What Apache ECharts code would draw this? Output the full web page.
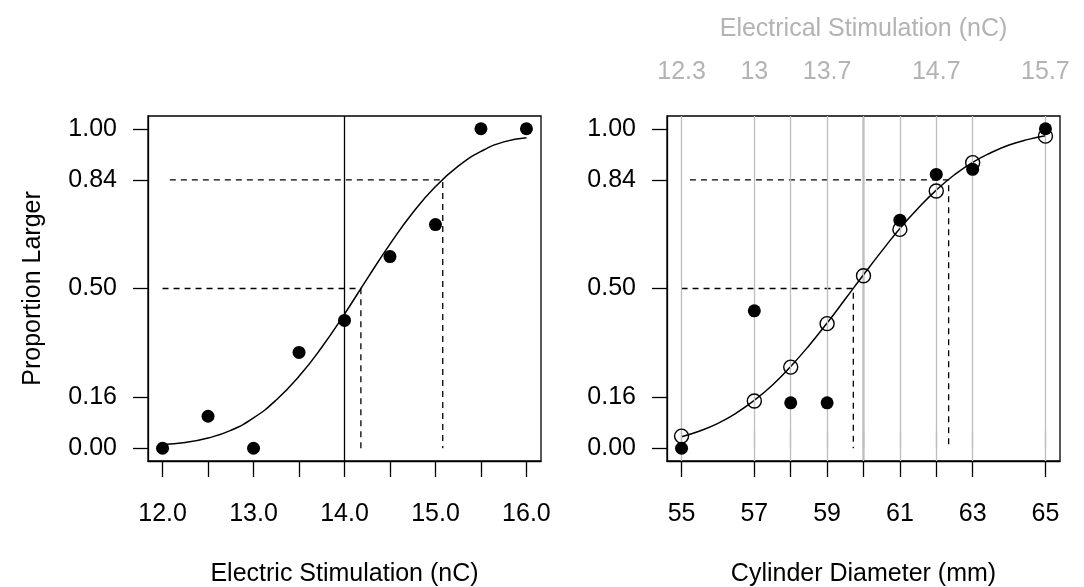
<!DOCTYPE html>
<html>
<head>
<meta charset="utf-8">
<script src="https://cdn.jsdelivr.net/npm/echarts@6/dist/echarts.min.js"></script>
<style>
  html, body { margin: 0; padding: 0; background: #fff; }
  #main { width: 1084px; height: 587px; }
</style>
</head>
<body>
<div id="main"></div>
<script>
// left panel: electric stimulation
var stimX = [12, 12.5, 13, 13.5, 14, 14.5, 15, 15.5, 16];
var stimProp = [0, 0.10, 0, 0.30, 0.40, 0.60, 0.70, 1, 1];
var stimCurveX = [12, 12.25, 12.5, 12.75, 13, 13.25, 13.5, 13.75, 14, 14.25, 14.5, 14.75, 15, 15.25, 15.5, 15.75, 16];
var stimCurveP = [0.012, 0.018, 0.032, 0.056, 0.095, 0.151, 0.225, 0.316, 0.42, 0.531, 0.639, 0.737, 0.819, 0.883, 0.929, 0.959, 0.972];
var stimHalf = [[12, 0.5], [14.18, 0.5], [14.18, 0]];
var stimUpper = [[12.08, 0.84], [15.08, 0.84], [15.08, 0]];
var stimRef = 14;
var stimTicks = [12, 12.5, 13, 13.5, 14, 14.5, 15, 15.5, 16];
var stimLabels = [12, 13, 14, 15, 16];

// right panel: cylinder diameter
var diamX = [55, 57, 58, 59, 60, 61, 62, 63, 65];
var diamObsX = [55, 57, 58, 59, 61, 62, 63, 65];
var diamObs = [0, 0.43, 0.142, 0.142, 0.714, 0.857, 0.873, 1];
var diamFit = [0.038, 0.148, 0.254, 0.39, 0.54, 0.685, 0.805, 0.894, 0.977];
var diamCurveX = [55, 55.5, 56, 56.5, 57, 57.5, 58, 58.5, 59, 59.5, 60, 60.5, 61, 61.5, 62, 62.5, 63, 63.5, 64, 64.5, 65];
var diamCurveP = [0.036, 0.054, 0.078, 0.110, 0.150, 0.198, 0.256, 0.321, 0.392, 0.467, 0.543, 0.617, 0.688, 0.751, 0.808, 0.856, 0.895, 0.925, 0.949, 0.966, 0.978];
var diamHalf = [[55, 0.5], [59.72, 0.5], [59.72, 0]];
var diamUpper = [[55.23, 0.84], [62.34, 0.84], [62.34, 0]];
var diamRef = 60;
var diamLabels = [55, 57, 59, 61, 63, 65];
var topLabelAt = [55, 57, 59, 62, 65];
var topLabelText = ['12.3', '13', '13.7', '14.7', '15.7'];

var yTicks = [0, 0.16, 0.5, 0.84, 1];

var FONT = 'Liberation Sans, Arial, sans-serif';
var FS = 25;
var GRAY_TEXT = '#b3b3b3';
var GRAY_LINE = '#bebebe';

function pairs(xs, ys) {
  return xs.map(function (x, i) { return [x, ys[i]]; });
}

function yAxisFor(idx, withName) {
  return {
    type: 'value', gridIndex: idx, min: -0.04, max: 1.04,
    name: withName ? 'Proportion Larger' : '',
    nameLocation: 'middle', nameGap: 102, nameRotate: 90,
    nameTextStyle: { fontFamily: FONT, fontSize: FS, color: '#000' },
    axisLine: { show: true, lineStyle: { color: '#000', width: 1.3 } },
    axisTick: { show: true, length: 15, customValues: yTicks, lineStyle: { color: '#000', width: 1.3 } },
    axisLabel: {
      customValues: yTicks, margin: 31, fontFamily: FONT, fontSize: FS, color: '#000',
      formatter: function (v) { return v.toFixed(2); }
    },
    splitLine: { show: false }
  };
}

function bottomAxis(idx, min, max, ticks, labels, name, fmt) {
  return {
    type: 'value', gridIndex: idx, min: min, max: max, position: 'bottom',
    name: name, nameLocation: 'middle', nameGap: 101,
    nameTextStyle: { fontFamily: FONT, fontSize: FS, color: '#000' },
    axisLine: { show: true, onZero: false, lineStyle: { color: '#000', width: 1.3 } },
    axisTick: { show: true, length: 16, customValues: ticks, lineStyle: { color: '#000', width: 1.3 } },
    axisLabel: { customValues: labels, margin: 41, fontFamily: FONT, fontSize: FS, color: '#000', formatter: fmt },
    splitLine: { show: false }
  };
}

function dashed(data, xi, yi) {
  return {
    type: 'line', xAxisIndex: xi, yAxisIndex: yi, data: data, showSymbol: false, symbol: 'none',
    lineStyle: { color: '#000', width: 1.3, type: [6, 5] }, silent: true, z: 3
  };
}

function refLine(x, xi, yi) {
  return {
    type: 'line', xAxisIndex: xi, yAxisIndex: yi, data: [[x, -0.04], [x, 1.04]], symbol: 'none',
    lineStyle: { color: '#000', width: 1.3 }, silent: true, z: 3
  };
}

var chart = echarts.init(document.getElementById('main'));

var option = {
  animation: false,
  backgroundColor: '#fff',
  grid: [
    { left: 148, top: 116, width: 393, height: 345, show: true, borderColor: '#000', borderWidth: 1.3, containLabel: false, outerBoundsMode: 'none' },
    { left: 667, top: 116, width: 393, height: 345, show: true, borderColor: '#000', borderWidth: 1.3, containLabel: false, outerBoundsMode: 'none' }
  ],
  xAxis: [
    bottomAxis(0, 11.84, 16.16, stimTicks, stimLabels, 'Electric Stimulation (nC)', function (v) { return v.toFixed(1); }),
    bottomAxis(1, 54.6, 65.4, diamX, diamLabels, 'Cylinder Diameter (mm)', function (v) { return String(v); }),
    {
      type: 'value', gridIndex: 1, min: 54.6, max: 65.4, position: 'top',
      name: 'Electrical Stimulation (nC)', nameLocation: 'middle', nameGap: 74,
      nameTextStyle: { fontFamily: FONT, fontSize: FS, color: GRAY_TEXT },
      axisLine: { show: false },
      axisTick: { show: true, length: 17, customValues: diamX, lineStyle: { color: GRAY_LINE, width: 1.3 } },
      axisLabel: {
        customValues: topLabelAt, margin: 31, fontFamily: FONT, fontSize: FS, color: GRAY_TEXT,
        formatter: function (v) { var i = topLabelAt.indexOf(v); return i >= 0 ? topLabelText[i] : ''; }
      },
      splitLine: { show: false }
    }
  ],
  yAxis: [yAxisFor(0, true), yAxisFor(1, false)],
  series: [
    // left panel
    refLine(stimRef, 0, 0),
    dashed(stimHalf, 0, 0),
    dashed(stimUpper, 0, 0),
    {
      type: 'line', xAxisIndex: 0, yAxisIndex: 0, data: pairs(stimCurveX, stimCurveP),
      smooth: true, symbol: 'none', lineStyle: { color: '#000', width: 1.5 }, z: 4
    },
    {
      type: 'scatter', xAxisIndex: 0, yAxisIndex: 0, data: pairs(stimX, stimProp),
      symbol: 'circle', symbolSize: 13, itemStyle: { color: '#000', opacity: 1 }, z: 5
    },
    // right panel
    {
      type: 'line', xAxisIndex: 1, yAxisIndex: 1, data: [], symbol: 'none',
      markLine: {
        silent: true, symbol: 'none', label: { show: false },
        lineStyle: { color: GRAY_LINE, width: 1.3, type: 'solid' },
        data: diamX.map(function (v) { return { xAxis: v }; })
      },
      z: 1
    },
    refLine(diamRef, 1, 1),
    dashed(diamHalf, 1, 1),
    dashed(diamUpper, 1, 1),
    {
      type: 'line', xAxisIndex: 1, yAxisIndex: 1, data: pairs(diamCurveX, diamCurveP),
      smooth: true, symbol: 'none', lineStyle: { color: '#000', width: 1.5 }, z: 4
    },
    {
      type: 'scatter', xAxisIndex: 1, yAxisIndex: 1, data: pairs(diamObsX, diamObs),
      symbol: 'circle', symbolSize: 13, itemStyle: { color: '#000', opacity: 1 }, z: 5
    },
    {
      type: 'scatter', xAxisIndex: 1, yAxisIndex: 1, data: pairs(diamX, diamFit),
      symbol: 'circle', symbolSize: 14,
      itemStyle: { color: 'rgba(0,0,0,0)', borderColor: '#000', borderWidth: 1.4, opacity: 1 }, z: 6
    }
  ]
};

chart.setOption(option);
</script>
</body>
</html>
